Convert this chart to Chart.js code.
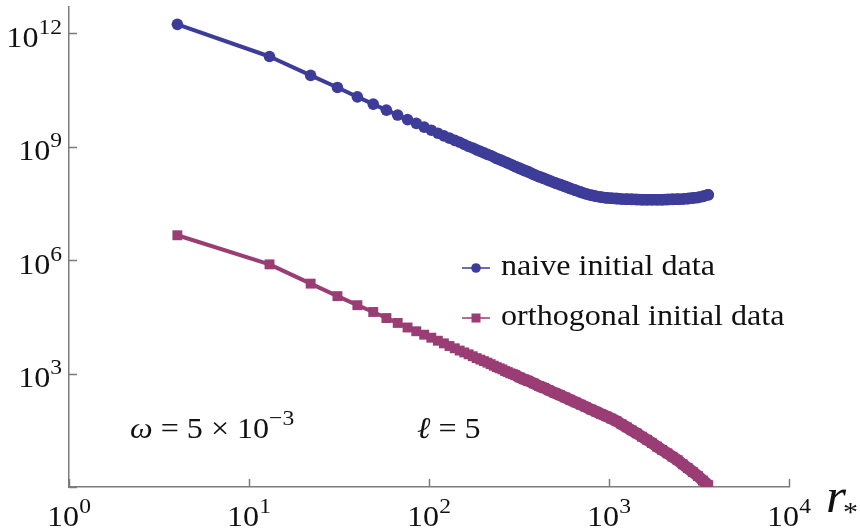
<!DOCTYPE html>
<html>
<head>
<meta charset="utf-8">
<script src="https://cdn.jsdelivr.net/npm/chart.js@4.4.1/dist/chart.umd.min.js"></script>
<style>
  html, body { margin: 0; padding: 0; background: #fff; }
  #wrap { width: 860px; height: 529px; }
</style>
</head>
<body>
<div id="wrap"><canvas id="falloff" width="860" height="529"></canvas></div>
<script>
// радиусы r_* (шаг 9, дальше прорежено)
const radii = [
  4, 13, 22, 31, 40, 49, 58, 67, 76, 85, 94, 103, 112, 121, 130, 139, 148, 157, 166, 175,
  184, 193, 202, 211, 220, 229, 238, 247, 256, 265, 274, 283, 292, 301,
  319, 337, 355, 382, 409, 436, 463, 499, 535, 571, 607, 652, 697, 742, 796, 850, 904, 967,
  1030, 1102, 1174, 1255, 1336, 1426, 1525, 1624, 1732, 1849, 1975, 2110, 2254, 2407, 2569,
  2740, 2920, 3118, 3325, 3559,
];

const naiveValues = [
  1.74e12, 2.45e11, 7.76e10, 3.72e10, 2.09e10, 1.35e10, 9.33e9, 6.92e9, 5.25e9, 4.17e9,
  3.31e9, 2.75e9, 2.29e9, 1.95e9, 1.70e9, 1.48e9, 1.32e9, 1.15e9, 1.02e9, 9.33e8,
  8.32e8, 7.59e8, 6.92e8, 6.31e8, 5.89e8, 5.37e8, 4.90e8, 4.57e8, 4.27e8, 3.98e8,
  3.72e8, 3.47e8, 3.24e8, 3.02e8,
  2.69e8, 2.40e8, 2.19e8, 1.86e8, 1.62e8, 1.45e8, 1.29e8, 1.12e8, 1.00e8, 8.91e7,
  7.94e7, 7.08e7, 6.31e7, 5.75e7, 5.25e7, 4.90e7, 4.68e7, 4.47e7, 4.37e7, 4.27e7,
  4.17e7, 4.12e7, 4.07e7, 4.03e7, 3.98e7, 3.98e7, 3.98e7, 3.98e7, 3.98e7, 4.03e7,
  4.07e7, 4.12e7, 4.17e7, 4.27e7, 4.42e7, 4.57e7, 4.90e7, 5.37e7,
];

const orthogonalValues = [
  4.57e6, 7.76e5, 2.40e5, 1.12e5, 6.46e4, 4.27e4, 2.95e4, 2.19e4, 1.66e4, 1.32e4,
  1.07e4, 8.91e3, 7.41e3, 6.31e3, 5.37e3, 4.68e3, 4.07e3, 3.63e3, 3.24e3, 2.88e3,
  2.57e3, 2.34e3, 2.14e3, 1.95e3, 1.78e3, 1.62e3, 1.48e3, 1.38e3, 1.29e3, 1.17e3,
  1.10e3, 1.02e3, 977, 912,
  794, 708, 646, 550, 468, 417, 363, 309, 269, 234,
  204, 174, 151, 132, 112, 97.7, 85.1, 74.1, 64.6, 55.0,
  45.7, 38.0, 31.6, 26.3, 21.4, 17.8, 14.5, 11.7, 9.55, 7.76,
  6.31, 5.13, 3.98, 3.16, 2.51, 1.95, 1.48, 1.12,
];

const seriesLabels = ['naive initial data', 'orthogonal initial data'];
const xTickExps = [0, 1, 2, 3, 4];
const yTickExps = [0, 3, 6, 9, 12];
const yLabelExps = [3, 6, 9, 12];

const SERIF = '"Liberation Serif", "Times New Roman", Tinos, serif';
const BLUE = 'rgb(61, 61, 153)';
const PLUM = 'rgb(153, 61, 116)';
const STRETCH = 1.07;
// дальше этого r маркеры сливаются в сплошную полосу
const DENSE_FROM = 301;

// пишет строку из кусков {t, font, dy}
function runsWidth(ctx, runs) {
  let w = 0;
  runs.forEach(r => { ctx.font = r.font; w += ctx.measureText(r.t).width * STRETCH; });
  return w;
}

function drawRuns(ctx, runs, x, y, align) {
  const w = runsWidth(ctx, runs);
  let left = x;
  if (align === 'center') left = x - w / 2;
  if (align === 'right') left = x - w;
  ctx.textAlign = 'left';
  ctx.textBaseline = 'alphabetic';
  runs.forEach(r => {
    ctx.font = r.font;
    ctx.save();
    ctx.translate(left, y - (r.dy || 0));
    ctx.scale(STRETCH, 1);
    ctx.fillText(r.t, 0, 0);
    ctx.restore();
    left += ctx.measureText(r.t).width * STRETCH;
  });
}

const big = `30px ${SERIF}`;
const small = `22px ${SERIF}`;
const power = e => [{ t: '10', font: big }, { t: String(e), font: small, dy: 13 }];

const decorations = {
  id: 'decorations',
  afterDraw(chart) {
    const { ctx, chartArea, scales: { x, y } } = chart;
    ctx.save();

    // засечки внутрь
    ctx.strokeStyle = '#7b7b7b';
    ctx.lineWidth = 1.5;
    ctx.beginPath();
    xTickExps.forEach(e => {
      const px = Math.round(x.getPixelForValue(10 ** e)) + 0.5;
      ctx.moveTo(px, chartArea.bottom);
      ctx.lineTo(px, chartArea.bottom - 8);
    });
    yTickExps.forEach(e => {
      const py = Math.round(y.getPixelForValue(10 ** e)) + 0.5;
      ctx.moveTo(chartArea.left, py);
      ctx.lineTo(chartArea.left + 8, py);
    });
    ctx.stroke();

    ctx.fillStyle = '#111';
    xTickExps.forEach(e => {
      drawRuns(ctx, power(e), x.getPixelForValue(10 ** e), 526, 'center');
    });
    yLabelExps.forEach(e => {
      drawRuns(ctx, power(e), 62, y.getPixelForValue(10 ** e) + 13.5, 'right');
    });

    // подписи параметров
    drawRuns(ctx, [
      { t: '\u03c9', font: `italic 30px ${SERIF}` },
      { t: ' = 5 \u00d7 10', font: big },
      { t: '\u22123', font: small, dy: 13 },
    ], 130, 438, 'left');
    drawRuns(ctx, [
      { t: '\u2113', font: `italic 30px ${SERIF}` },
      { t: ' = 5', font: big },
    ], 417, 438, 'left');

    // ось r_*
    drawRuns(ctx, [{ t: 'r', font: `italic 48px ${SERIF}` }], 826, 512, 'left');
    drawRuns(ctx, [{ t: '*', font: `28px ${SERIF}` }], 843, 521, 'left');

    // легенда
    chart.data.datasets.forEach((ds, i) => {
      const cy = 268 + i * 50;
      ctx.strokeStyle = ds.borderColor;
      ctx.lineWidth = 1.5;
      ctx.beginPath();
      ctx.moveTo(462, cy);
      ctx.lineTo(490, cy);
      ctx.stroke();
      ctx.fillStyle = ds.borderColor;
      if (ds.pointStyle === 'rect') {
        ctx.fillRect(471.5, cy - 4.5, 9, 9);
      } else {
        ctx.beginPath();
        ctx.arc(476, cy, 4.8, 0, Math.PI * 2);
        ctx.fill();
      }
      ctx.fillStyle = '#111';
      drawRuns(ctx, [{ t: ds.label, font: `30px ${SERIF}` }], 501, cy + 7, 'left');
    });

    ctx.restore();
  },
};

const points = values => radii.map((r, i) => ({ x: r, y: values[i] }));
const bandWidth = w => ctx => (ctx.p0.parsed.x >= DENSE_FROM ? w : 4);

new Chart(document.getElementById('falloff'), {
  type: 'line',
  data: {
    datasets: [
      {
        label: seriesLabels[0],
        data: points(naiveValues),
        borderColor: BLUE,
        backgroundColor: BLUE,
        borderWidth: 4,
        borderCapStyle: 'round',
        borderJoinStyle: 'round',
        segment: { borderWidth: bandWidth(11.5) },
        pointStyle: 'circle',
        pointRadius: 5.8,
        pointBorderWidth: 0,
        tension: 0,
      },
      {
        label: seriesLabels[1],
        data: points(orthogonalValues),
        borderColor: PLUM,
        backgroundColor: PLUM,
        borderWidth: 4,
        borderJoinStyle: 'round',
        segment: { borderWidth: bandWidth(12) },
        pointStyle: 'rect',
        pointRadius: 7,
        pointBorderWidth: 0,
        tension: 0,
      },
    ],
  },
  options: {
    responsive: false,
    animation: false,
    layout: { padding: { left: 69, right: 71, top: 7, bottom: 42 } },
    plugins: {
      legend: { display: false },
      tooltip: { enabled: false },
    },
    scales: {
      x: {
        type: 'logarithmic',
        min: 1,
        max: 1e4,
        grid: { display: false, drawTicks: false },
        ticks: { display: false },
        border: { color: '#7b7b7b', width: 1.5 },
      },
      y: {
        type: 'logarithmic',
        min: 1,
        max: 5e12,
        grid: { display: false, drawTicks: false },
        ticks: { display: false },
        border: { color: '#7b7b7b', width: 1.5 },
      },
    },
  },
  plugins: [decorations],
});
</script>
</body>
</html>
